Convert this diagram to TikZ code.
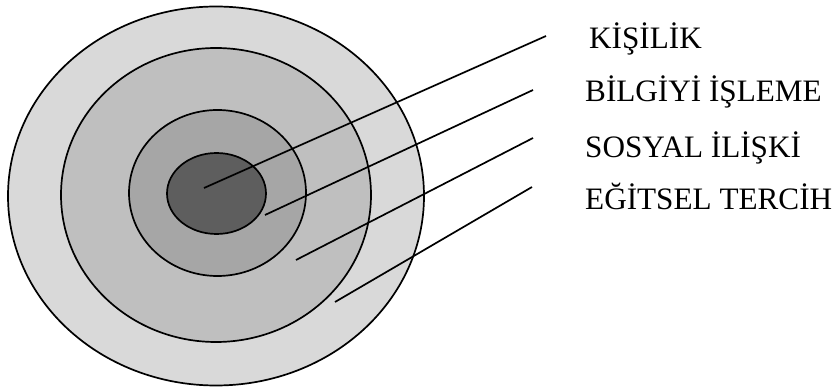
\documentclass[tikz,border=0pt]{standalone}
\usepackage{fontspec}
\setmainfont{Liberation Serif}
\usetikzlibrary{shapes.geometric}
\definecolor{ringA}{HTML}{D9D9D9}
\definecolor{ringB}{HTML}{BFBFBF}
\definecolor{ringC}{HTML}{A6A6A6}
\definecolor{ringD}{HTML}{5E5E5E}
\tikzset{
  ring/.style={ellipse, draw=black, line width=1.7pt, inner sep=0pt, outer sep=0pt},
  lead/.style={line width=1.7pt},
  lbl/.style={anchor=base west, inner sep=0pt, font=\fontsize{31.2}{37}\selectfont}
}
\begin{document}
\begin{tikzpicture}[x=1pt,y=-1pt]
\useasboundingbox (0,0) rectangle (839,390);
\node[ring, fill=ringA, minimum width=416pt, minimum height=379pt] (r1) at (216,196) {};
\node[ring, fill=ringB, minimum width=310pt, minimum height=294pt] (r2) at (216,195) {};
\node[ring, fill=ringC, minimum width=177pt, minimum height=166pt] (r3) at (217.5,193) {};
\node[ring, fill=ringD, minimum width=99pt, minimum height=81pt] (r4) at (216.5,193.5) {};
\coordinate (s1) at (204,188);
\coordinate (s2) at (265,215);
\coordinate (s3) at (296,260);
\coordinate (s4) at (335,302);
\coordinate (e1) at (546,36);
\coordinate (e2) at (533,90);
\coordinate (e3) at (533,138);
\coordinate (e4) at (532,187);
\draw[lead] (s1) -- (e1);
\draw[lead] (s2) -- (e2);
\draw[lead] (s3) -- (e3);
\draw[lead] (s4) -- (e4);
\node[lbl] (l1) at (589,49) {KİŞİLİK};
\node[lbl] (l2) at (585,102) {BİLGİYİ İŞLEME};
\node[lbl] (l3) at (585,158) {SOSYAL İLİŞKİ};
\node[lbl] (l4) at (585,210) {EĞİTSEL TERCİH};
\end{tikzpicture}
\end{document}
